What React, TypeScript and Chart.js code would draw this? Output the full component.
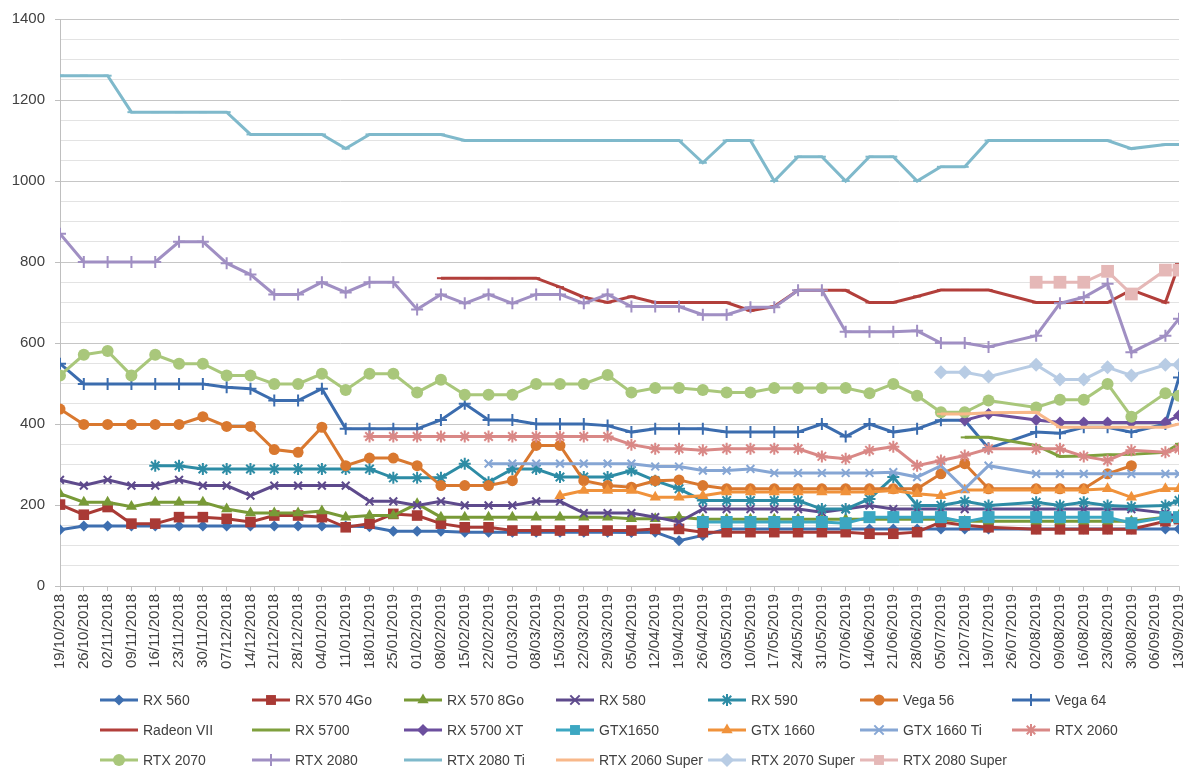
import React, { useEffect, useRef } from "react";
import { Chart, registerables } from "chart.js";

Chart.register(...registerables);

// Dates of the data points (dd/mm/yyyy)
const pointDates = [
  "19/10/2018", "26/10/2018", "02/11/2018", "09/11/2018", "16/11/2018", "23/11/2018", "30/11/2018",
  "07/12/2018", "14/12/2018", "21/12/2018", "28/12/2018", "04/01/2019", "11/01/2019", "18/01/2019",
  "25/01/2019", "01/02/2019", "08/02/2019", "15/02/2019", "22/02/2019", "01/03/2019", "08/03/2019",
  "15/03/2019", "22/03/2019", "29/03/2019", "05/04/2019", "12/04/2019", "19/04/2019", "26/04/2019",
  "03/05/2019", "10/05/2019", "17/05/2019", "24/05/2019", "31/05/2019", "07/06/2019", "14/06/2019",
  "21/06/2019", "28/06/2019", "05/07/2019", "12/07/2019", "19/07/2019", "02/08/2019", "09/08/2019",
  "16/08/2019", "23/08/2019", "30/08/2019", "09/09/2019", "13/09/2019",
];

// Axis range (weekly ticks)
const axisStart = "19/10/2018";
const axisEnd = "13/09/2019";
const tickStepDays = 7;
const yMax = 1400;
const yLabelStep = 200;
const yMinorStep = 50;

const _ = null;

const rx560 = [139, 148, 148, 148, 148, 148, 148, 148, 148, 148, 148, 148, 148, 146, 135, 135, 135, 133, 133, 133, 133, 133, 133, 133, 132, 133, 112, 125, 141, 141, 141, 141, 141, 141, 141, 141, 141, 141, 141, 141, 141, 141, 141, 141, 141, 141, 141];
const rx570_4 = [201, 176, 195, 154, 154, 170, 170, 166, 158, 174, 174, 170, 145, 154, 178, 174, 154, 145, 145, 137, 137, 137, 137, 137, 137, 141, 141, 133, 133, 133, 133, 133, 133, 133, 129, 129, 133, 158, 150, 145, 140, 140, 140, 140, 140, 160, 165];
const rx570_8 = [228, 207, 207, 196, 207, 207, 207, 190, 180, 180, 180, 185, 170, 174, 174, 203, 170, 170, 170, 170, 170, 170, 170, 170, 166, 166, 170, 165, 165, 165, 165, 165, 165, 165, 165, 165, 165, 165, 160, 160, 160, 160, 160, 160, 160, 170, 175];
const rx580 = [262, 248, 262, 248, 248, 262, 248, 248, 223, 248, 248, 248, 248, 209, 209, 199, 209, 199, 199, 199, 209, 209, 180, 180, 180, 170, 158, 190, 190, 190, 190, 190, 182, 190, 199, 190, 190, 190, 190, 190, 190, 190, 190, 190, 190, 180, 170];
const rx590 = [_, _, _, _, 297, 297, 289, 289, 289, 289, 289, 289, 289, 289, 267, 267, 267, 302, 256, 289, 289, 269, 269, 269, 285, 260, 240, 211, 211, 211, 211, 211, 190, 190, 215, 269, 199, 199, 209, 199, 207, 199, 207, 199, 196, 199, 211];
const vega56 = [437, 399, 399, 399, 399, 399, 418, 394, 394, 337, 330, 392, 297, 316, 316, 297, 248, 248, 248, 260, 347, 347, 260, 248, 244, 260, 262, 248, 240, 240, 240, 240, 240, 240, 240, 240, 240, 277, 302, 240, 240, 240, 240, 277, 297, _, _];
const vega64 = [549, 499, 499, 499, 499, 499, 499, 491, 487, 458, 458, 487, 388, 388, 388, 388, 410, 450, 410, 410, 400, 400, 400, 396, 380, 388, 388, 388, 380, 380, 380, 380, 400, 369, 400, 380, 388, 409, 409, 340, 380, 377, 392, 392, 380, 400, 515];
const radeonVII = [_, _, _, _, _, _, _, _, _, _, _, _, _, _, _, _, 760, 760, 760, 760, 760, 738, 713, 700, 715, 700, 700, 700, 700, 680, 690, 730, 730, 730, 700, 700, 715, 731, 731, 731, 700, 700, 700, 700, 731, 700, 795];
const rx5700 = [_, _, _, _, _, _, _, _, _, _, _, _, _, _, _, _, _, _, _, _, _, _, _, _, _, _, _, _, _, _, _, _, _, _, _, _, _, _, 367, 367, 347, 320, 321, 324, 325, 330, 351];
const rx5700xt = [_, _, _, _, _, _, _, _, _, _, _, _, _, _, _, _, _, _, _, _, _, _, _, _, _, _, _, _, _, _, _, _, _, _, _, _, _, _, 409, 425, 410, 404, 404, 404, 404, 404, 421];
const gtx1650 = [_, _, _, _, _, _, _, _, _, _, _, _, _, _, _, _, _, _, _, _, _, _, _, _, _, _, _, 158, 158, 158, 158, 158, 158, 155, 170, 170, 170, 170, 158, 170, 170, 170, 170, 170, 155, 170, 170];
const gtx1660 = [_, _, _, _, _, _, _, _, _, _, _, _, _, _, _, _, _, _, _, _, _, 223, 236, 236, 236, 219, 219, 223, 232, 232, 232, 232, 232, 232, 232, 236, 228, 223, 237, 237, 237, 237, 237, 240, 219, 240, 240];
const gtx1660ti = [_, _, _, _, _, _, _, _, _, _, _, _, _, _, _, _, _, _, 302, 302, 302, 302, 302, 302, 302, 295, 295, 285, 285, 289, 279, 279, 279, 279, 279, 281, 269, 297, 240, 297, 277, 277, 277, 277, 277, 277, 277];
const rtx2060 = [_, _, _, _, _, _, _, _, _, _, _, _, _, 369, 369, 369, 369, 369, 369, 369, 369, 369, 369, 369, 349, 339, 339, 335, 339, 339, 339, 339, 320, 314, 335, 344, 297, 310, 322, 339, 339, 339, 320, 310, 335, 330, 339];
const rtx2070 = [520, 571, 580, 520, 571, 549, 549, 520, 520, 499, 499, 524, 484, 524, 524, 478, 509, 472, 472, 472, 499, 499, 499, 521, 478, 489, 489, 484, 478, 478, 489, 489, 489, 489, 476, 499, 470, 429, 429, 458, 441, 460, 460, 499, 418, 476, 470];
const rtx2080 = [870, 800, 800, 800, 800, 850, 850, 797, 769, 720, 720, 750, 725, 750, 750, 683, 720, 698, 720, 698, 720, 720, 698, 720, 690, 690, 690, 670, 670, 688, 688, 730, 730, 628, 628, 628, 630, 600, 600, 590, 618, 698, 713, 746, 577, 618, 660];
const rtx2080ti = [1260, 1260, 1260, 1170, 1170, 1170, 1170, 1170, 1115, 1115, 1115, 1115, 1080, 1115, 1115, 1115, 1115, 1100, 1100, 1100, 1100, 1100, 1100, 1100, 1100, 1100, 1100, 1045, 1100, 1100, 1000, 1060, 1060, 1000, 1060, 1060, 1000, 1035, 1035, 1100, 1100, 1100, 1100, 1100, 1080, 1090, 1090];
const rtx2060s = [_, _, _, _, _, _, _, _, _, _, _, _, _, _, _, _, _, _, _, _, _, _, _, _, _, _, _, _, _, _, _, _, _, _, _, _, _, 425, 425, 428, 429, 392, 392, 392, 392, 392, 400];
const rtx2070s = [_, _, _, _, _, _, _, _, _, _, _, _, _, _, _, _, _, _, _, _, _, _, _, _, _, _, _, _, _, _, _, _, _, _, _, _, _, 528, 528, 517, 546, 510, 510, 540, 520, 546, 546];
const rtx2080s = [_, _, _, _, _, _, _, _, _, _, _, _, _, _, _, _, _, _, _, _, _, _, _, _, _, _, _, _, _, _, _, _, _, _, _, _, _, _, _, _, 750, 750, 750, 777, 721, 780, 780];

const seriesNames = [
  "RX 560", "RX 570 4Go", "RX 570 8Go", "RX 580", "RX 590", "Vega 56", "Vega 64",
  "Radeon VII", "RX 5700", "RX 5700 XT", "GTX1650", "GTX 1660", "GTX 1660 Ti", "RTX 2060",
  "RTX 2070", "RTX 2080", "RTX 2080 Ti", "RTX 2060 Super", "RTX 2070 Super", "RTX 2080 Super",
];
const seriesValues = [
  rx560, rx570_4, rx570_8, rx580, rx590, vega56, vega64,
  radeonVII, rx5700, rx5700xt, gtx1650, gtx1660, gtx1660ti, rtx2060,
  rtx2070, rtx2080, rtx2080ti, rtx2060s, rtx2070s, rtx2080s,
];
const seriesColors = [
  "#3E6FB0", "#A93A35", "#789A37", "#5E4A8C", "#2D8CA5", "#D9782F", "#3B6CAE",
  "#B23F3B", "#7FA03D", "#6C4F9E", "#3CA7C2", "#F0923B", "#86A6D4", "#D98886",
  "#A9C77B", "#A08FC3", "#7FB9CB", "#F8B88A", "#B8CCE4", "#E5B8B7",
];
const seriesMarkers = [
  "rectRot", "rect", "triangle", "crossRot", "star", "circle", "cross",
  "line", "line", "rectRot", "rect", "triangle", "crossRot", "star",
  "circle", "cross", "line", "line", "rectRot", "rect",
];
const seriesMarkerSizes = [
  5.5, 7.5, 6.5, 5.5, 6, 5.5, 6,
  4, 4, 6, 8.5, 6.5, 5.5, 6,
  6, 6, 4, 4, 7, 9,
];

const FONT = "'Liberation Sans', Arial, sans-serif";
const TEXT = "#404040";

const BASE = Date.UTC(2018, 9, 19);
function toDay(s: string): number {
  const [d, m, y] = s.split("/").map(Number);
  return Math.round((Date.UTC(y, m - 1, d) - BASE) / 86400000);
}
function fmtDay(v: number): string {
  const dt = new Date(BASE + Math.round(v) * 86400000);
  const dd = String(dt.getUTCDate()).padStart(2, "0");
  const mm = String(dt.getUTCMonth() + 1).padStart(2, "0");
  return `${dd}/${mm}/${dt.getUTCFullYear()}`;
}

function drawMarker(ctx: CanvasRenderingContext2D, style: string, x: number, y: number, r: number, color: string) {
  ctx.save();
  ctx.fillStyle = color;
  ctx.strokeStyle = color;
  ctx.lineWidth = 2;
  ctx.beginPath();
  switch (style) {
    case "circle":
      ctx.arc(x, y, r, 0, Math.PI * 2);
      ctx.fill();
      break;
    case "rect": {
      const s = r * Math.SQRT1_2;
      ctx.fillRect(x - s, y - s, 2 * s, 2 * s);
      break;
    }
    case "rectRot":
      ctx.moveTo(x, y - r);
      ctx.lineTo(x + r, y);
      ctx.lineTo(x, y + r);
      ctx.lineTo(x - r, y);
      ctx.closePath();
      ctx.fill();
      break;
    case "triangle": {
      ctx.moveTo(x, y - r);
      ctx.lineTo(x + r * Math.sin((2 * Math.PI) / 3), y - r * Math.cos((2 * Math.PI) / 3));
      ctx.lineTo(x + r * Math.sin((4 * Math.PI) / 3), y - r * Math.cos((4 * Math.PI) / 3));
      ctx.closePath();
      ctx.fill();
      break;
    }
    case "cross":
      ctx.moveTo(x - r, y); ctx.lineTo(x + r, y);
      ctx.moveTo(x, y - r); ctx.lineTo(x, y + r);
      ctx.stroke();
      break;
    case "crossRot": {
      const s = r * Math.SQRT1_2 * 1.2;
      ctx.moveTo(x - s, y - s); ctx.lineTo(x + s, y + s);
      ctx.moveTo(x - s, y + s); ctx.lineTo(x + s, y - s);
      ctx.stroke();
      break;
    }
    case "star": {
      const s = r * Math.SQRT1_2;
      ctx.moveTo(x - s, y - s); ctx.lineTo(x + s, y + s);
      ctx.moveTo(x - s, y + s); ctx.lineTo(x + s, y - s);
      ctx.moveTo(x, y - r); ctx.lineTo(x, y + r);
      ctx.stroke();
      break;
    }
    default:
      break;
  }
  ctx.restore();
}

const gridLegend = {
  id: "gridLegend",
  afterDraw(chart: any) {
    const ctx = chart.ctx as CanvasRenderingContext2D;
    const cols = 7;
    const colW = 152;
    const x0 = 100;
    const y0 = 700;
    const rowH = 30;
    seriesNames.forEach((name, i) => {
      const c = i % cols;
      const r = Math.floor(i / cols);
      const x = x0 + c * colW;
      const y = y0 + r * rowH;
      const color = seriesColors[i];
      ctx.save();
      ctx.strokeStyle = color;
      ctx.lineWidth = 3;
      ctx.beginPath();
      ctx.moveTo(x, y);
      ctx.lineTo(x + 38, y);
      ctx.stroke();
      ctx.restore();
      drawMarker(ctx, seriesMarkers[i], x + 19, y, Math.min(seriesMarkerSizes[i], 7), color);
      ctx.save();
      ctx.fillStyle = TEXT;
      ctx.font = `14px ${FONT}`;
      ctx.textBaseline = "middle";
      ctx.textAlign = "left";
      ctx.fillText(name, x + 43, y + 1);
      ctx.restore();
    });
  },
};

export default function App() {
  const ref = useRef<HTMLCanvasElement | null>(null);
  useEffect(() => {
    if (!ref.current) return;
    const xs = pointDates.map(toDay);
    const datasets = seriesNames.map((name, i) => {
      const vals = seriesValues[i];
      const data = xs
        .map((x, k) => ({ x, y: vals[k] }))
        .filter((p) => p.y !== null && p.y !== undefined);
      const style = seriesMarkers[i];
      const isStroke = style === "cross" || style === "crossRot" || style === "star" || style === "line";
      return {
        label: name,
        data,
        borderColor: seriesColors[i],
        backgroundColor: seriesColors[i],
        borderWidth: 3,
        pointStyle: style,
        pointRadius: seriesMarkerSizes[i],
        pointHoverRadius: seriesMarkerSizes[i],
        pointBorderWidth: isStroke ? 2 : 0,
        pointBackgroundColor: seriesColors[i],
        pointBorderColor: seriesColors[i],
        tension: 0,
        order: -i,
      };
    });
    const end = toDay(axisEnd);
    const start = toDay(axisStart);
    const chart = new Chart(ref.current, {
      type: "line",
      data: { datasets: datasets as any },
      options: {
        animation: false,
        responsive: false,
        parsing: false as any,
        layout: { padding: { top: 15, right: 20, bottom: 93, left: 0 } },
        plugins: { legend: { display: false }, tooltip: { enabled: false } },
        scales: {
          x: {
            type: "linear",
            min: start,
            max: end,
            afterFit: (s: any) => { s.height = 104; },
            ticks: {
              stepSize: tickStepDays,
              autoSkip: false,
              maxRotation: 90,
              minRotation: 90,
              padding: 3,
              color: TEXT,
              font: { family: FONT, size: 15 },
              callback: (v: any) => fmtDay(Number(v)),
            },
            grid: { drawOnChartArea: false, drawTicks: true, tickLength: 5, color: "#BFBFBF" },
            border: { color: "#BFBFBF", width: 1 },
          },
          y: {
            type: "linear",
            min: 0,
            max: yMax,
            afterFit: (s: any) => { s.width = 60; },
            ticks: {
              stepSize: yMinorStep,
              autoSkip: false,
              padding: 10,
              color: TEXT,
              font: { family: FONT, size: 15 },
              callback: (v: any) => (Number(v) % yLabelStep === 0 ? String(v) : ""),
            },
            grid: {
              color: (c: any) => (c.tick && c.tick.value % yLabelStep === 0 ? "#C6C6C6" : "#E3E3E3"),
              tickColor: (c: any) => (c.tick && c.tick.value % yLabelStep === 0 ? "#BFBFBF" : "rgba(0,0,0,0)"),
              tickLength: 5,
              lineWidth: 1,
            },
            border: { color: "#BFBFBF", width: 1 },
          },
        },
      },
      plugins: [gridLegend],
    });
    return () => chart.destroy();
  }, []);
  return (
    <div style={{ position: "absolute", left: 0, top: 0, width: 1200, height: 783, background: "#fff" }}>
      <canvas ref={ref} width={1200} height={783} />
    </div>
  );
}
